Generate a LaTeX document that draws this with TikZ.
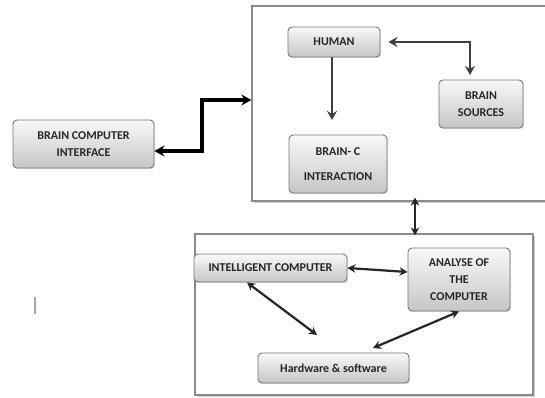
\documentclass[tikz,border=0pt]{standalone}
\usepackage{fontspec}
\setmainfont{Carlito}
\usetikzlibrary{arrows.meta,shadows,calc}

\definecolor{inktext}{HTML}{262626}
\definecolor{frameline}{HTML}{8A8A8A}
\definecolor{boxline}{HTML}{777777}

\tikzset{
  blockbox/.style={
    rectangle, rounded corners=4pt, draw=boxline, line width=0.9pt,
    top color=gray!5, bottom color=gray!45,
    drop shadow={shadow xshift=1.2pt, shadow yshift=-1.2pt, opacity=0.25},
    text=inktext, font=\bfseries\fontsize{12}{17}\selectfont,
    align=center, inner sep=1pt
  },
  framebox/.style={
    rectangle, draw=frameline, line width=1.2pt, fill=white,
    drop shadow={shadow xshift=1.5pt, shadow yshift=-1.5pt, opacity=0.35},
    inner sep=0pt
  },
  heavylink/.style={line width=3.2pt, black,
    {Stealth[length=10pt,width=11pt]}-{Stealth[length=10pt,width=11pt]}},
  midlink/.style={line width=2.8pt, black!75,
    -{Stealth[length=9pt,width=10pt]}},
  midboth/.style={line width=2.8pt, black!75,
    {Stealth[length=9pt,width=10pt]}-{Stealth[length=9pt,width=10pt]}},
  thinboth/.style={line width=2.2pt, black!85,
    {Stealth[length=8pt,width=8.5pt]}-{Stealth[length=8pt,width=8.5pt]}}
}

\begin{document}
\begin{tikzpicture}[x=1pt,y=-1pt]
  \useasboundingbox (0,0) rectangle (545,398);

  % the two grouping frames
  \node[framebox, minimum width=310pt, minimum height=195pt] (topbox) at (407,103.5) {};
  \node[framebox, minimum width=338pt, minimum height=161pt] (botbox) at (364,314.5) {};

  % blocks
  \node[blockbox, minimum width=141pt, minimum height=48pt] (bci) at (83.5,144)
    {BRAIN COMPUTER\\INTERFACE};
  \node[blockbox, minimum width=92pt, minimum height=30pt] (human) at (334,42) {HUMAN};
  \node[blockbox, minimum width=98pt, minimum height=58pt,
        font=\bfseries\fontsize{12}{25}\selectfont] (brainc) at (338,164)
    {BRAIN- C\\INTERACTION};
  \node[blockbox, minimum width=84pt, minimum height=48pt] (sources) at (481,104)
    {BRAIN\\SOURCES};
  \node[blockbox, minimum width=153pt, minimum height=28pt] (intel) at (270.5,268)
    {INTELLIGENT COMPUTER};
  \node[blockbox, minimum width=102pt, minimum height=63pt] (analyse) at (459,279.5)
    {ANALYSE OF\\THE\\COMPUTER};
  \node[blockbox, minimum width=151pt, minimum height=30pt] (hw) at (333.5,368)
    {Hardware \& software};

  % helper points for bends and free arrow ends
  \coordinate (bend) at (202,100);
  \coordinate (hc) at (332,120);
  \coordinate (hs) at (470,75);
  \coordinate (vx) at (415,0);
  \coordinate (f1) at (317,335);
  \coordinate (f2) at (373,348);

  % connectors
  \draw[heavylink] ([yshift=-7pt]bci.east) -| (bend) -- (bend -| topbox.west);
  \draw[midlink] (human.south -| hc) -- (hc);
  \draw[midboth] ([xshift=8pt]human.east) -| (hs);
  \draw[thinboth] ([yshift=4pt]topbox.south -| vx) -- ([yshift=-2pt]botbox.north -| vx);
  \draw[thinboth] (intel.east) -- ([yshift=7.5pt]analyse.west);
  \draw[thinboth] ([xshift=-23.5pt]intel.south) -- (f1);
  \draw[thinboth] (analyse.south) -- (f2);

  % stray mark at the left
  \draw[gray!70, line width=1.5pt] (35,297) -- (35,314);
\end{tikzpicture}
\end{document}
